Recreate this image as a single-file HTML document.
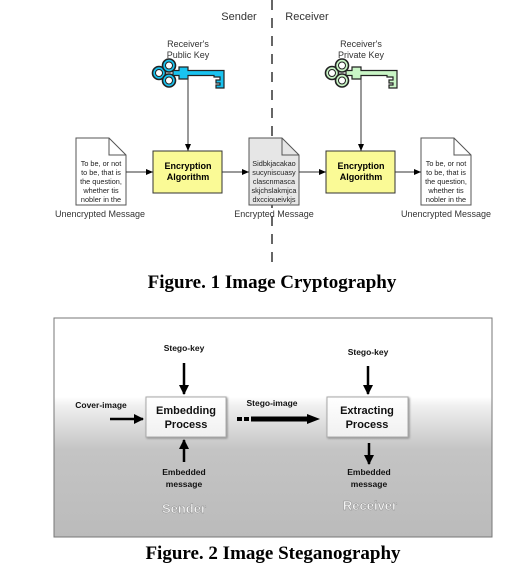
<!DOCTYPE html>
<html><head><style>
body{margin:0;width:523px;height:577px;background:#fff;overflow:hidden}
svg{display:block}
</style></head><body>
<svg width="523" height="577" viewBox="0 0 523 577" xmlns="http://www.w3.org/2000/svg">
<defs>
<marker id="a" markerWidth="8" markerHeight="8" refX="7" refY="4" orient="auto" markerUnits="userSpaceOnUse"><path d="M0,1 L7,4 L0,7z" fill="#000"/></marker>
<marker id="b" markerWidth="10" markerHeight="10" refX="9" refY="5" orient="auto" markerUnits="userSpaceOnUse"><path d="M0,0 L10,5 L0,10z" fill="#000"/></marker>
<linearGradient id="bg" x1="0" y1="0" x2="0" y2="1">
<stop offset="0" stop-color="#fff"/><stop offset="0.36" stop-color="#fff"/><stop offset="0.40" stop-color="#f0f0f0"/><stop offset="0.6" stop-color="#c4c4c4"/><stop offset="1" stop-color="#bbb"/></linearGradient>
<linearGradient id="bx" x1="0" y1="0" x2="0" y2="1"><stop offset="0" stop-color="#fff"/><stop offset="1" stop-color="#f0f0f0"/></linearGradient>
<g id="key">
<path d="M14,-2.5 H20 V-6 H29 V-2.5 H65 V15 H57 V12 H61 V10 H57 V7 H61 V4 H55 V2.5 H29 V6 H20 V2.5 H14z" stroke="#222" stroke-width="1.2"/>
<circle cx="0" cy="0" r="6.5" stroke="#222" stroke-width="1.6"/>
<circle cx="10" cy="-7.5" r="6.5" stroke="#222" stroke-width="1.6"/>
<circle cx="10" cy="7.5" r="6.5" stroke="#222" stroke-width="1.6"/>
<circle cx="0" cy="0" r="3.5" fill="#fff" stroke="#222" stroke-width="1"/>
<circle cx="10" cy="-7.5" r="3.5" fill="#fff" stroke="#222" stroke-width="1"/>
<circle cx="10" cy="7.5" r="3.5" fill="#fff" stroke="#222" stroke-width="1"/>
</g>
</defs>
<g font-family="Liberation Sans, sans-serif">
<line x1="272" y1="0" x2="272" y2="262" stroke="#333" stroke-width="1.5" stroke-dasharray="10,8"/>
<text x="239" y="20" font-size="11" text-anchor="middle" fill="#333">Sender</text>
<text x="307" y="20" font-size="11" text-anchor="middle" fill="#333">Receiver</text>
<text x="188" y="47" font-size="9" text-anchor="middle" fill="#333">Receiver's</text>
<text x="188" y="58" font-size="9" text-anchor="middle" fill="#333">Public Key</text>
<text x="361" y="47" font-size="9" text-anchor="middle" fill="#333">Receiver's</text>
<text x="361" y="58" font-size="9" text-anchor="middle" fill="#333">Private Key</text>
<g fill="#19c3f0" transform="translate(159,73)"><use href="#key"/></g>
<g fill="#c9f5c6" transform="translate(332,73)"><use href="#key"/></g>
<line x1="188" y1="76" x2="188" y2="151" stroke="#333" marker-end="url(#a)"/>
<line x1="361" y1="76" x2="361" y2="151" stroke="#333" marker-end="url(#a)"/>
<rect x="153" y="151" width="69" height="42" fill="#fafa96" stroke="#333"/>
<rect x="326" y="151" width="69" height="42" fill="#fafa96" stroke="#333"/>
<text x="188" y="169" font-size="9" font-weight="bold" text-anchor="middle">Encryption</text>
<text x="188" y="180" font-size="9" font-weight="bold" text-anchor="middle">Algorithm</text>
<text x="361" y="169" font-size="9" font-weight="bold" text-anchor="middle">Encryption</text>
<text x="361" y="180" font-size="9" font-weight="bold" text-anchor="middle">Algorithm</text>
<path d="M76,138 H109 L126,155 V205 H76z" fill="#fff" stroke="#555"/><path d="M109,138 V155 H126" fill="none" stroke="#555"/>
<path d="M249,138 H282 L299,155 V205 H249z" fill="#e6e6e6" stroke="#555"/><path d="M282,138 V155 H299" fill="none" stroke="#555"/>
<path d="M421,138 H454 L471,155 V205 H421z" fill="#fff" stroke="#555"/><path d="M454,138 V155 H471" fill="none" stroke="#555"/>
<g font-size="7.3" text-anchor="middle" fill="#222">
<text x="101" y="166">To be, or not</text><text x="101" y="175">to be, that is</text><text x="101" y="184">the question,</text><text x="101" y="193">whether tis</text><text x="101" y="202">nobler in the</text>
<text x="446" y="166">To be, or not</text><text x="446" y="175">to be, that is</text><text x="446" y="184">the question,</text><text x="446" y="193">whether tis</text><text x="446" y="202">nobler in the</text>
<text x="274" y="166">Sidbkjacakao</text><text x="274" y="175">sucyniscuasy</text><text x="274" y="184">clascnmasca</text><text x="274" y="193">skjchslakmjca</text><text x="274" y="202">dxccioueivkjs</text>
</g>
<line x1="126" y1="172" x2="153" y2="172" stroke="#333" marker-end="url(#a)"/>
<line x1="222" y1="172" x2="249" y2="172" stroke="#333" marker-end="url(#a)"/>
<line x1="299" y1="172" x2="326" y2="172" stroke="#333" marker-end="url(#a)"/>
<line x1="395" y1="172" x2="421" y2="172" stroke="#333" marker-end="url(#a)"/>
<g font-size="9" fill="#333" text-anchor="middle">
<text x="100" y="217">Unencrypted Message</text>
<text x="274" y="217">Encrypted Message</text>
<text x="446" y="217">Unencrypted Message</text>
</g>
</g>
<text x="272" y="288" font-family="Liberation Serif, serif" font-size="19" font-weight="bold" text-anchor="middle">Figure. 1 Image Cryptography</text>
<rect x="54" y="318" width="438" height="219" fill="url(#bg)" stroke="#777"/>
<g font-family="Liberation Sans, sans-serif" font-size="8.5" font-weight="bold" text-anchor="middle" fill="#111">
<text x="184" y="351">Stego-key</text>
<text x="368" y="355">Stego-key</text>
<text x="101" y="408">Cover-image</text>
<text x="272" y="406">Stego-image</text>
<text x="184" y="475">Embedded</text><text x="184" y="487">message</text>
<text x="369" y="475">Embedded</text><text x="369" y="487">message</text>
</g>
<rect x="146" y="397" width="80" height="40" fill="url(#bx)" stroke="#aaa" style="filter:drop-shadow(1px 1px 1px #888)"/>
<rect x="327" y="397" width="81" height="40" fill="url(#bx)" stroke="#aaa" style="filter:drop-shadow(1px 1px 1px #888)"/>
<g font-family="Liberation Sans, sans-serif" font-size="11" font-weight="bold" text-anchor="middle" fill="#111">
<text x="186" y="414">Embedding</text><text x="186" y="428">Process</text>
<text x="367" y="414">Extracting</text><text x="367" y="428">Process</text>
</g>
<g stroke="#000" stroke-width="2.5">
<line x1="184" y1="363" x2="184" y2="394" marker-end="url(#b)"/>
<line x1="368" y1="366" x2="368" y2="394" marker-end="url(#b)"/>
<line x1="184" y1="462" x2="184" y2="440" marker-end="url(#b)"/>
<line x1="369" y1="443" x2="369" y2="464" marker-end="url(#b)"/>
<line x1="110" y1="419" x2="143" y2="419" marker-end="url(#b)"/>
</g>
<rect x="237" y="417" width="5" height="4" fill="#000"/><rect x="244" y="417" width="5" height="4" fill="#000"/>
<path d="M251,416.5 H307 V414 L320,419 L307,424 V421.5 H251z" fill="#000"/>
<text x="184" y="513" font-family="Liberation Sans, sans-serif" font-size="13" font-weight="bold" text-anchor="middle" fill="#f4f4f4" stroke="#888" stroke-width="0.4">Sender</text>
<text x="370" y="510" font-family="Liberation Sans, sans-serif" font-size="13" font-weight="bold" text-anchor="middle" fill="#f4f4f4" stroke="#888" stroke-width="0.4">Receiver</text>
<text x="273" y="559" font-family="Liberation Serif, serif" font-size="19" font-weight="bold" text-anchor="middle">Figure. 2 Image Steganography</text>
</svg>
</body></html>
